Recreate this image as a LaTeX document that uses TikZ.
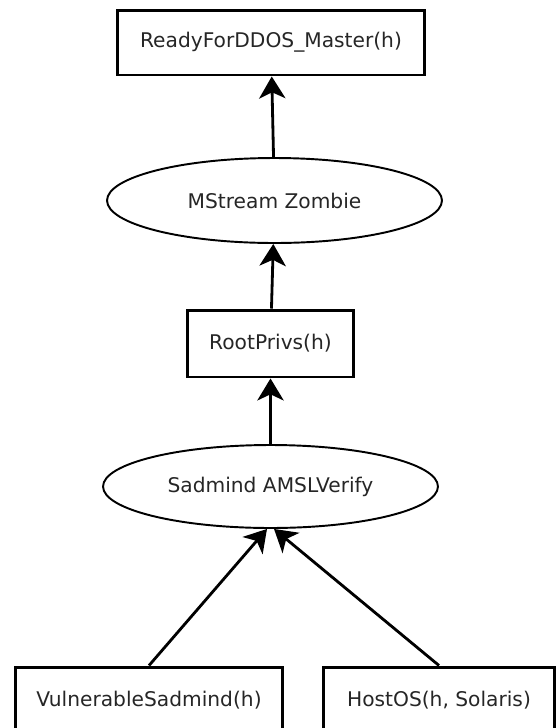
\documentclass[tikz,border=0pt]{standalone}
\usepackage{fontspec}
\setmainfont{DejaVu Sans}
\usetikzlibrary{arrows.meta, shapes.geometric}

\begin{document}
\begin{tikzpicture}[x=0.02cm, y=-0.02cm, >={Stealth[length=12.5pt, width=15pt, inset=3.5pt]},
    box/.style={draw, line width=1.7pt, inner sep=0pt, text=black!85, font=\fontsize{11.5}{14}\selectfont},
    oval/.style={draw, ellipse, line width=1.1pt, inner sep=0pt, text=black!85, font=\fontsize{11.5}{14}\selectfont},
    link/.style={->, line width=1.6pt}]
    \useasboundingbox (0,0) rectangle (560,728);
    \node[box, minimum width=6.16cm, minimum height=1.3cm] (master) at (271,42.5) {ReadyForDDOS\_Master(h)};
    \node[oval, minimum width=6.7cm, minimum height=1.7cm] (zombie) at (274.5,200.5) {MStream Zombie};
    \node[box, minimum width=3.34cm, minimum height=1.34cm] (root) at (270.5,343.5) {RootPrivs(h)};
    \node[oval, minimum width=6.7cm, minimum height=1.66cm] (sadmind) at (270.5,486.5) {Sadmind AMSLVerify};
    \node[box, minimum width=5.36cm, minimum height=1.32cm] (vuln) at (149,700) {VulnerableSadmind(h)};
    \node[box, minimum width=4.64cm, minimum height=1.32cm] (hostos) at (439,700) {HostOS(h, Solaris)};
    % edges
    \draw[link] (zombie) -- (master);
    \draw[link] (root) -- (zombie);
    \draw[link] (sadmind) -- (root);
    \draw[link] (vuln.north) -- ([xshift=-2pt]sadmind.south);
    \draw[link] (hostos.north) -- ([xshift=2pt]sadmind.south);
\end{tikzpicture}
\end{document}
